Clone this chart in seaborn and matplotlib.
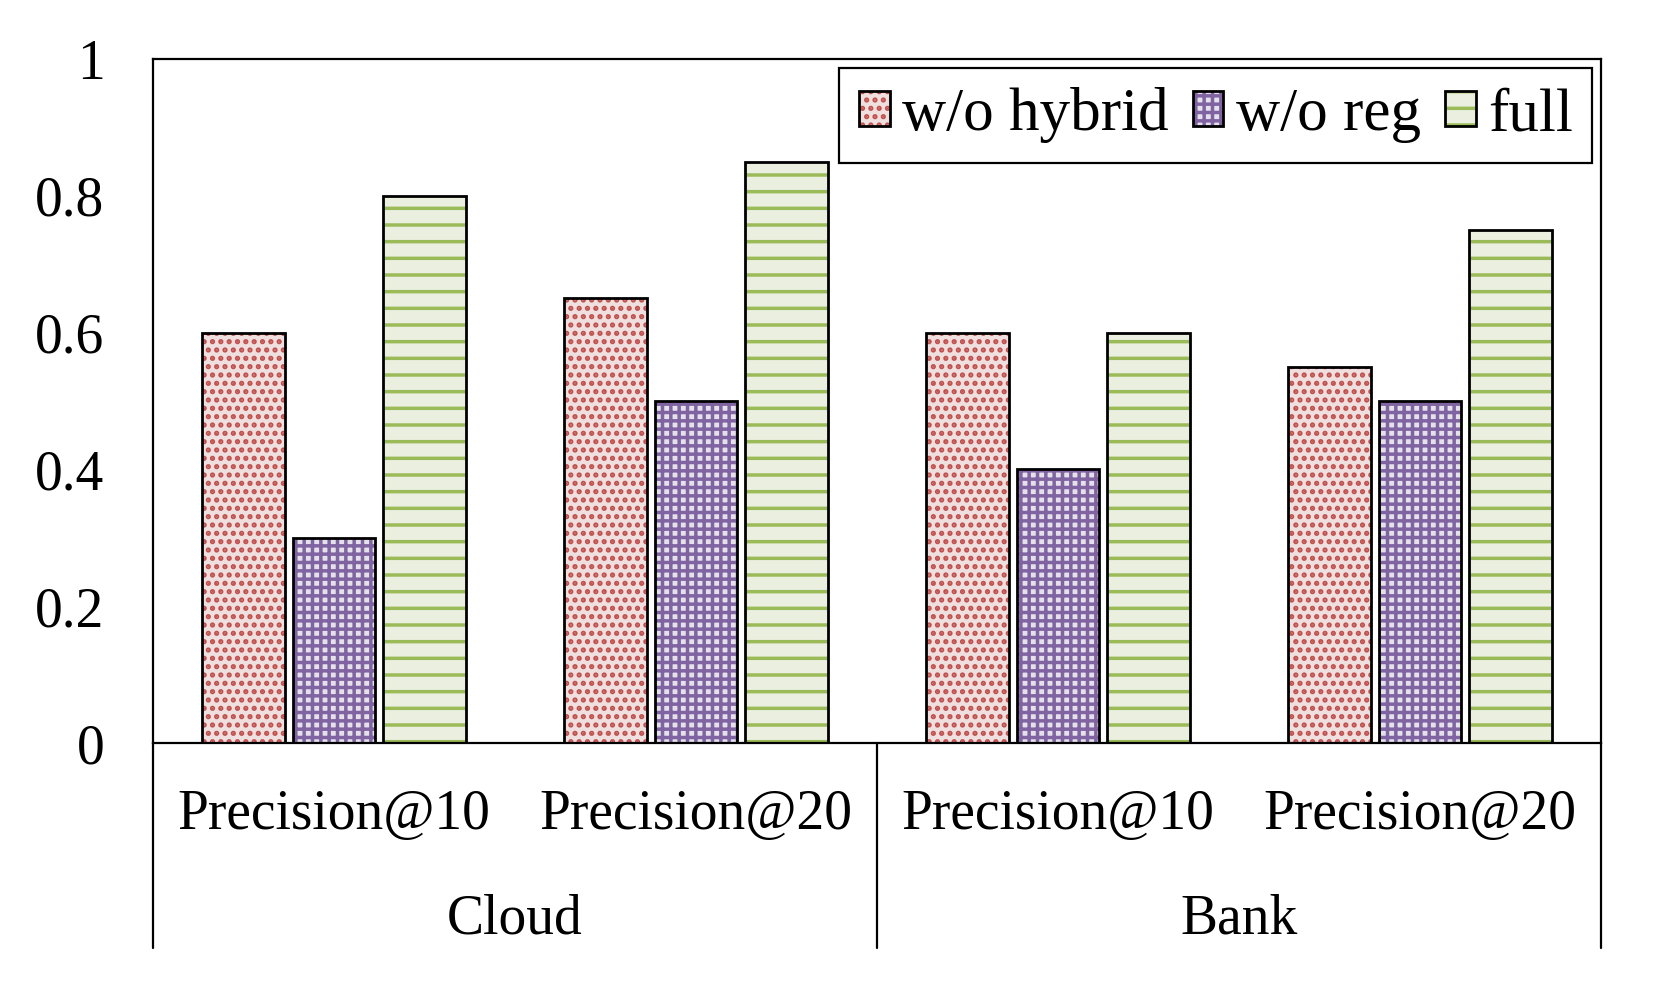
import pandas as pd
import matplotlib
matplotlib.use("Agg")
import matplotlib.pyplot as plt
import seaborn as sns
from matplotlib.colors import to_rgba

# Data
groups = ["Cloud", "Cloud", "Bank", "Bank"]
metrics = ["Precision@10", "Precision@20", "Precision@10", "Precision@20"]
variants = ["w/o hybrid", "w/o reg", "full"]
wo_hybrid = [0.60, 0.65, 0.60, 0.55]
wo_reg = [0.30, 0.50, 0.40, 0.50]
full = [0.80, 0.85, 0.60, 0.75]
yticks = [0, 0.2, 0.4, 0.6, 0.8, 1]
ytick_labels = ["0", "0.2", "0.4", "0.6", "0.8", "1"]

slots = [g + "|" + m for g, m in zip(groups, metrics)]
rows = []
for name, vals in zip(variants, [wo_hybrid, wo_reg, full]):
    for s, v in zip(slots, vals):
        rows.append({"slot": s, "variant": name, "value": v})
df = pd.DataFrame(rows)

# Styles
fills = ["#F2DCDB", "#E4DFEC", "#EBF1DE"]
hatch_colors = ["#C0504D", "#8064A2", "#9BBB59"]
hatches = ["..", "++", "-"]
fs = 40

sns.set_style("white")
plt.rcParams["font.family"] = ["Liberation Serif", "DejaVu Serif"]
plt.rcParams["text.color"] = "black"
plt.rcParams["xtick.color"] = "black"
plt.rcParams["ytick.color"] = "black"
plt.rcParams["hatch.linewidth"] = 2.5

fig = plt.figure(figsize=(16.59, 9.9), dpi=100)
ax = fig.add_axes([153 / 1659, 1 - 743 / 990, (1601 - 153) / 1659, (743 - 59) / 990])

sns.barplot(data=df, x="slot", y="value", hue="variant", order=slots,
            hue_order=variants, palette=fills, width=0.75, gap=0.09,
            edgecolor="black", linewidth=2, legend=False, ax=ax)

for cont, h, hc in zip(ax.containers, hatches, hatch_colors):
    for bar in cont:
        bar.set_hatch(h)
        bar._hatch_color = to_rgba(hc)

ax.set_ylim(0, 1)
ax.set_xlim(-0.5, 3.5)
ax.set_yticks(yticks)
ax.set_yticklabels(ytick_labels, fontsize=fs)
ax.set_xticks(range(4))
ax.set_xticklabels(metrics, fontsize=fs)
ax.tick_params(axis="y", length=0, pad=35)
ax.tick_params(axis="x", length=0, pad=33)
ax.set_xlabel("")
ax.set_ylabel("")

for sp in ax.spines.values():
    sp.set_color("black")
    sp.set_linewidth(1.6)

# group separators below the axis
for xf in [0, 0.5, 1]:
    ax.plot([xf, xf], [0, -0.30], transform=ax.transAxes, color="black",
            lw=1.6, clip_on=False)
ax.text(0.25, -0.258, "Cloud", transform=ax.transAxes, ha="center", va="center", fontsize=fs)
ax.text(0.75, -0.258, "Bank", transform=ax.transAxes, ha="center", va="center", fontsize=fs)

handles = [cont[0] for cont in ax.containers]
leg = ax.legend(handles, variants, loc="upper right", bbox_to_anchor=(0.994, 0.987),
                ncol=3, fontsize=44, frameon=True, fancybox=False, framealpha=1,
                edgecolor="black", handlelength=0.5, handleheight=0.5,
                handletextpad=0.2, columnspacing=0.4, borderpad=0.32,
                borderaxespad=0)
leg.get_frame().set_linewidth(1.6)

fig.savefig("out.png", dpi=100)
